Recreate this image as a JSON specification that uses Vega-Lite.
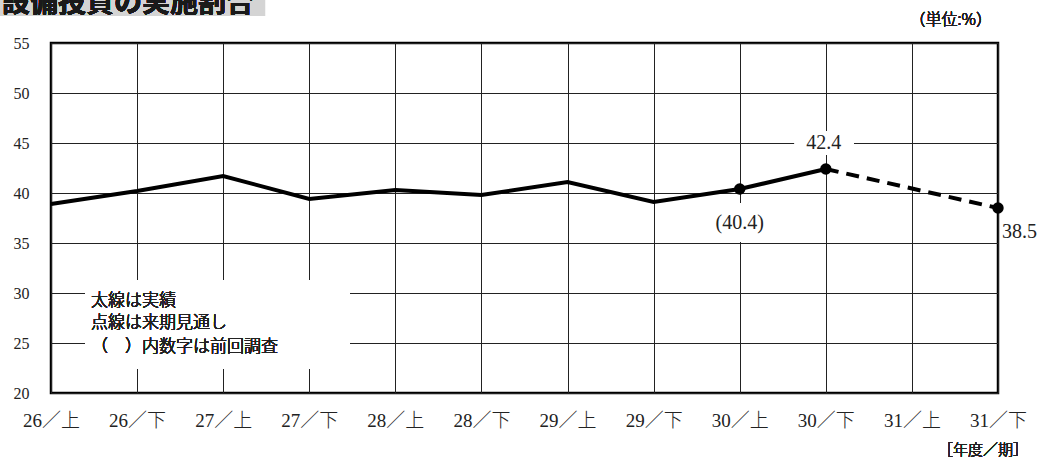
{
  "$schema": "https://vega.github.io/schema/vega-lite/v6.json",
  "autosize": {"type": "none"},
  "width": 947,
  "height": 350,
  "padding": {"left": 51, "top": 43, "right": 61, "bottom": 66},
  "background": "white",
  "config": {
    "view": {"stroke": "black", "strokeWidth": 2.5},
    "font": "Liberation Serif, Noto Sans CJK JP"
  },
  "data": {
    "values": [
      {"period": "26／上", "n": 0, "rate": 38.9},
      {"period": "26／下", "n": 1, "rate": 40.2},
      {"period": "27／上", "n": 2, "rate": 41.7},
      {"period": "27／下", "n": 3, "rate": 39.4},
      {"period": "28／上", "n": 4, "rate": 40.3},
      {"period": "28／下", "n": 5, "rate": 39.8},
      {"period": "29／上", "n": 6, "rate": 41.1},
      {"period": "29／下", "n": 7, "rate": 39.1},
      {"period": "30／上", "n": 8, "rate": 40.4},
      {"period": "30／下", "n": 9, "rate": 42.4},
      {"period": "31／下", "n": 11, "rate": 38.5}
    ]
  },
  "encoding": {
    "x": {
      "field": "n",
      "type": "quantitative",
      "scale": {"domain": [0, 11], "nice": false, "zero": false},
      "axis": {
        "title": null,
        "values": [0, 1, 2, 3, 4, 5, 6, 7, 8, 9, 10, 11],
        "labelExpr": "['26／上','26／下','27／上','27／下','28／上','28／下','29／上','29／下','30／上','30／下','31／上','31／下'][datum.value]",
        "grid": true,
        "gridColor": "#222",
        "gridWidth": 1,
        "ticks": false,
        "domain": false,
        "labelFont": "Liberation Serif, Noto Sans CJK JP",
        "labelFontSize": 19,
        "labelFontWeight": 300,
        "labelColor": "#222",
        "labelPadding": 18,
        "labelFlush": false,
        "labelBound": false,
        "labelOverlap": false
      }
    },
    "y": {
      "field": "rate",
      "type": "quantitative",
      "scale": {"domain": [20, 55], "nice": false, "zero": false},
      "axis": {
        "title": null,
        "values": [20, 25, 30, 35, 40, 45, 50, 55],
        "grid": true,
        "gridColor": "#222",
        "gridWidth": 1,
        "ticks": false,
        "domain": false,
        "labelFont": "Liberation Serif",
        "labelFontSize": 16,
        "labelColor": "#222",
        "labelPadding": 22,
        "labelFlush": false,
        "labelBound": false
      }
    }
  },
  "layer": [
    {
      "mark": {"type": "rect", "color": "#d4d4d4", "clip": false},
      "encoding": {
        "x": {"datum": -0.65},
        "x2": {"datum": 2.486},
        "y": {"datum": 57.7},
        "y2": {"datum": 60}
      }
    },
    {
      "mark": {
        "type": "text",
        "text": "設備投資の実施割合",
        "font": "Noto Sans CJK JP",
        "fontWeight": "bold",
        "fontSize": 28,
        "align": "left",
        "baseline": "alphabetic",
        "color": "#1a1a1a"
      },
      "encoding": {"x": {"datum": -0.57}, "y": {"datum": 58.1}}
    },
    {
      "mark": {
        "type": "text",
        "text": "（単位:%）",
        "font": "Noto Sans CJK JP",
        "fontWeight": 300,
        "fontSize": 16,
        "align": "right",
        "baseline": "middle",
        "color": "#222"
      },
      "encoding": {"x": {"datum": 10.93}, "y": {"datum": 57.3}}
    },
    {
      "mark": {
        "type": "text",
        "text": "［年度／期］",
        "font": "Noto Sans CJK JP",
        "fontWeight": 300,
        "fontSize": 15,
        "align": "right",
        "baseline": "middle",
        "color": "#222"
      },
      "encoding": {"x": {"datum": 11.35}, "y": {"datum": 14.3}}
    },
    {
      "mark": {"type": "rect", "color": "white"},
      "encoding": {
        "x": {"datum": 0.395},
        "x2": {"datum": 3.47},
        "y": {"datum": 22.4},
        "y2": {"datum": 31.3}
      }
    },
    {
      "mark": {"type": "rect", "color": "white"},
      "encoding": {
        "x": {"datum": 8.64},
        "x2": {"datum": 9.32},
        "y": {"datum": 43.8},
        "y2": {"datum": 46.2}
      }
    },
    {
      "mark": {"type": "rect", "color": "white"},
      "encoding": {
        "x": {"datum": 7.68},
        "x2": {"datum": 8.33},
        "y": {"datum": 35.1},
        "y2": {"datum": 39.0}
      }
    },
    {
      "transform": [{"filter": "datum.n <= 9"}],
      "mark": {"type": "line", "color": "black", "strokeWidth": 4, "strokeJoin": "miter"}
    },
    {
      "transform": [{"filter": "datum.n >= 9"}],
      "mark": {"type": "line", "color": "black", "strokeWidth": 4, "strokeDash": [13, 8]}
    },
    {
      "transform": [{"filter": "datum.n >= 8"}],
      "mark": {"type": "point", "shape": "circle", "filled": true, "color": "black", "opacity": 1, "size": 130}
    },
    {
      "transform": [{"filter": "datum.n == 9"}],
      "mark": {
        "type": "text",
        "font": "Liberation Serif",
        "fontSize": 20,
        "align": "center",
        "baseline": "middle",
        "dx": -2,
        "dy": -26,
        "color": "#222"
      },
      "encoding": {"text": {"field": "rate", "type": "quantitative", "format": ".1f"}}
    },
    {
      "transform": [
        {"filter": "datum.n == 8"},
        {"calculate": "'(' + format(datum.rate, '.1f') + ')'", "as": "prev"}
      ],
      "mark": {
        "type": "text",
        "font": "Liberation Serif",
        "fontSize": 20,
        "align": "center",
        "baseline": "middle",
        "dy": 34,
        "color": "#222"
      },
      "encoding": {"text": {"field": "prev", "type": "nominal"}}
    },
    {
      "transform": [{"filter": "datum.n == 11"}],
      "mark": {
        "type": "text",
        "font": "Liberation Serif",
        "fontSize": 20,
        "align": "left",
        "baseline": "middle",
        "dx": 4,
        "dy": 24,
        "color": "#222"
      },
      "encoding": {"text": {"field": "rate", "type": "quantitative", "format": ".1f"}}
    },
    {
      "mark": {
        "type": "text",
        "text": "太線は実績",
        "font": "Noto Sans CJK JP",
        "fontWeight": 300,
        "fontSize": 17,
        "align": "left",
        "baseline": "middle",
        "color": "#222"
      },
      "encoding": {"x": {"datum": 0.465}, "y": {"datum": 29.23}}
    },
    {
      "mark": {
        "type": "text",
        "text": "点線は来期見通し",
        "font": "Noto Sans CJK JP",
        "fontWeight": 300,
        "fontSize": 17,
        "align": "left",
        "baseline": "middle",
        "color": "#222"
      },
      "encoding": {"x": {"datum": 0.465}, "y": {"datum": 26.97}}
    },
    {
      "mark": {
        "type": "text",
        "text": "（　）内数字は前回調査",
        "font": "Noto Sans CJK JP",
        "fontWeight": 300,
        "fontSize": 17,
        "align": "left",
        "baseline": "middle",
        "color": "#222"
      },
      "encoding": {"x": {"datum": 0.465}, "y": {"datum": 24.63}}
    }
  ]
}
